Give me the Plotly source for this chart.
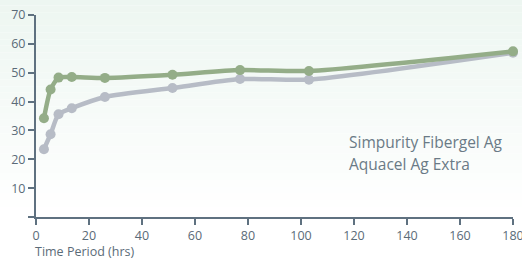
import plotly.graph_objects as go

time_hrs = [3, 5.5, 8.5, 13.5, 26, 51.5, 77, 103, 180]
simpurity = [34.2, 44.2, 48.3, 48.5, 48.2, 49.3, 50.9, 50.6, 57.4]
aquacel = [23.5, 28.7, 35.6, 37.7, 41.6, 44.7, 47.8, 47.6, 56.9]
series_names = ["Simpurity Fibergel Ag", "Aquacel Ag Extra"]
y_ticks = [0, 10, 20, 30, 40, 50, 60, 70]
x_ticks = [0, 20, 40, 60, 80, 100, 120, 140, 160, 180]

axis_col = "#5f7180"
txt_col = "#5b6b78"
font_fam = "Open Sans"

fig = go.Figure()
fig.add_trace(go.Scatter(x=time_hrs, y=aquacel, mode="lines+markers", name=series_names[1],
                         line=dict(color="#b7bcc6", width=4.5, shape="spline", smoothing=0.6),
                         marker=dict(size=10, color="#b7bcc6"), cliponaxis=False))
fig.add_trace(go.Scatter(x=time_hrs, y=simpurity, mode="lines+markers", name=series_names[0],
                         line=dict(color="#94ad88", width=4.5, shape="spline", smoothing=0.6),
                         marker=dict(size=10, color="#94ad88"), cliponaxis=False))

# gradient background bands
n = 40
top = (237, 246, 241)
bot = (255, 255, 255)
shapes = []
y0p, y1p = -0.25, 1.08
for i in range(n):
    t = i / (n - 1)
    f = min(1.0, t / 0.8)
    c = tuple(int(round(top[k] + (bot[k] - top[k]) * f)) for k in range(3))
    ya = y1p - (y1p - y0p) * i / n
    yb = y1p - (y1p - y0p) * (i + 1) / n
    shapes.append(dict(type="rect", xref="paper", yref="paper", x0=-0.1, x1=1.05, y0=yb, y1=ya,
                       fillcolor="rgb(%d,%d,%d)" % c, line=dict(width=0), layer="below"))

annotations = [
    dict(text=series_names[0], xref="paper", yref="paper", x=0.653, y=0.37, xanchor="left", yanchor="middle",
         showarrow=False, font=dict(family=font_fam, size=15.5, color="#6a7a86")),
    dict(text=series_names[1], xref="paper", yref="paper", x=0.653, y=0.26, xanchor="left", yanchor="middle",
         showarrow=False, font=dict(family=font_fam, size=15.5, color="#6a7a86")),
    dict(text="Time Period (hrs)", xref="paper", yref="paper", x=-0.004, y=-0.125, xanchor="left",
         yanchor="top", showarrow=False, borderpad=0, font=dict(family=font_fam, size=12.5, color=txt_col)),
]

fig.update_layout(
    width=522, height=261,
    margin=dict(l=36, r=9, t=15, b=44),
    paper_bgcolor="white", plot_bgcolor="rgba(0,0,0,0)",
    showlegend=False,
    shapes=shapes, annotations=annotations,
    font=dict(family=font_fam, size=12.5, color=txt_col),
    xaxis=dict(range=[0, 180], tickvals=x_ticks, ticks="outside", ticklen=6, tickwidth=1.5,
               tickcolor=axis_col, showline=True, linecolor=axis_col, linewidth=2, showgrid=False,
               zeroline=False, tickfont=dict(size=12.5, color=txt_col), automargin=False,
               ticklabeloverflow="allow"),
    yaxis=dict(range=[0, 70], tickvals=y_ticks, ticktext=["" if v == 0 else str(v) for v in y_ticks],
               ticks="outside", ticklen=6, tickwidth=1.5, tickcolor=axis_col, showline=True,
               linecolor=axis_col, linewidth=2, showgrid=False, zeroline=False, automargin=False,
               tickfont=dict(size=12.5, color=txt_col)),
)

fig.write_html("out.html", config={"displayModeBar": False},
               post_script="document.body.style.margin='0';document.body.style.overflow='hidden';")
